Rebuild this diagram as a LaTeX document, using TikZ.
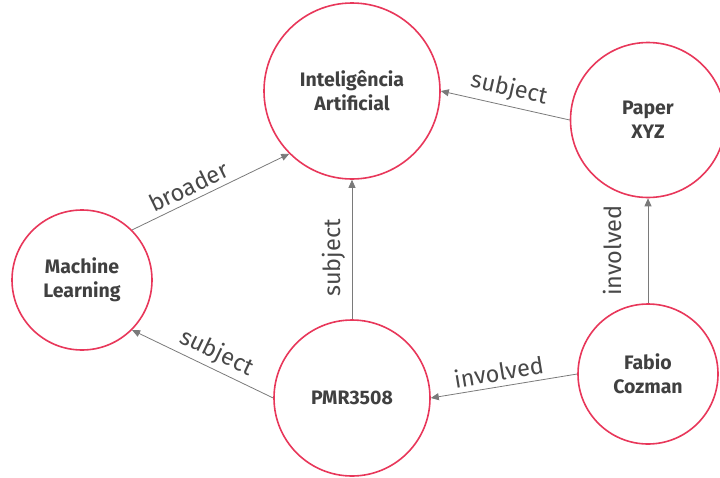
\documentclass[tikz,border=0pt]{standalone}
\usepackage{fontspec}
\setmainfont{Fira Sans}
\setsansfont{Fira Sans}
\usetikzlibrary{arrows.meta}

\definecolor{ringred}{HTML}{E8375A}
\definecolor{nodegray}{HTML}{404040}
\definecolor{edgegray}{HTML}{7A7A7A}
\definecolor{labelgray}{HTML}{484848}
\newcommand{\conceptfont}{\fontsize{19.5}{24}\selectfont\bfseries}
\newcommand{\relfont}{\fontsize{23.5}{26}\selectfont}

\begin{document}
\begin{tikzpicture}[x=1pt, y=-1pt,
  concept/.style={circle, draw=ringred, line width=1.6pt, fill=white, align=center,
    font=\conceptfont, text=nodegray, inner sep=0pt},
  rel/.style={draw=edgegray, line width=0.8pt, -{Triangle[length=8pt,width=7pt]}},
  lbl/.style={font=\relfont, text=labelgray, sloped, inner sep=2pt}]
\useasboundingbox (0,0) rectangle (720,477);

\node[concept, minimum size=176pt] (ia)    at (352,91)  {Inteligência\\Artificial};
\node[concept, minimum size=140pt] (ml)    at (82,280)  {Machine\\Learning};
\node[concept, minimum size=155pt] (paper) at (648,120) {Paper\\XYZ};
\node[concept, minimum size=140pt] (fabio) at (648,374) {Fabio\\Cozman};
\node[concept, minimum size=156pt] (pmr)   at (352,398) {PMR3508};

\draw[rel] (ml.north east) -- node[lbl, above=3pt, pos=0.4] {broader} (ia.south west);
\draw[rel] (pmr.north) -- node[lbl, above=4pt, pos=0.44] {subject} (ia.south);
\draw[rel] (paper.west) -- node[lbl, above=3pt, pos=0.5] {subject} (ia.east);
\draw[rel] (pmr.west) -- node[lbl, above=2pt, pos=0.45] {subject} (ml.south east);
\draw[rel] (fabio.west) -- node[lbl, above=3pt, pos=0.52] {involved} (pmr.east);
\draw[rel] (fabio.north) -- node[lbl, above=24pt, pos=0.5] {involved} (paper.south);
\end{tikzpicture}
\end{document}
